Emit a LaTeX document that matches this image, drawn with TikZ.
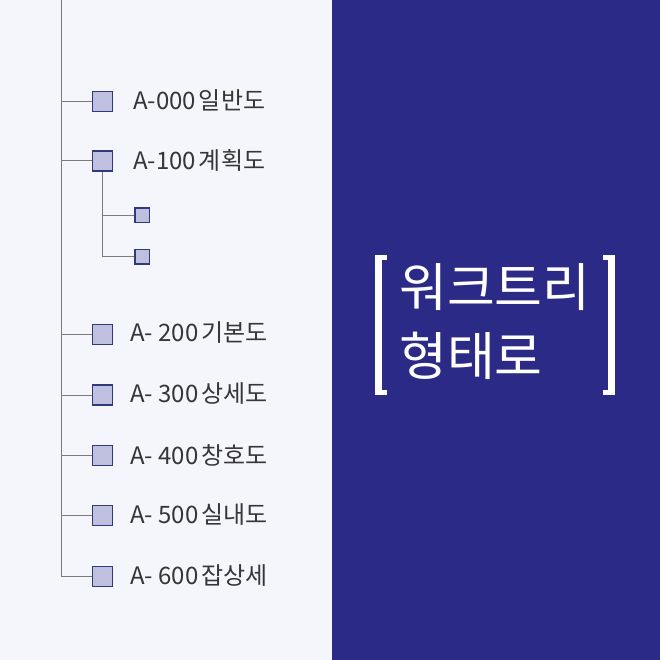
\documentclass[tikz,border=0pt]{standalone}
\usepackage{fontspec}
\setmainfont{Noto Sans CJK KR}
\definecolor{bgl}{HTML}{F5F5FC}
\definecolor{navy}{HTML}{2B2A86}
\definecolor{sqfill}{HTML}{BFC0E0}
\definecolor{sqline}{HTML}{2E3A7C}
\definecolor{txt}{HTML}{363636}
\definecolor{ln}{HTML}{7A7A7A}
\begin{document}
\begin{tikzpicture}[x=1pt,y=-1pt,
  bigsq/.style={draw=sqline,fill=sqfill,line width=1.8pt,minimum size=20pt,inner sep=0pt},
  smallsq/.style={draw=sqline,fill=sqfill,line width=1.5pt,minimum size=14.5pt,inner sep=0pt},
  item/.style={anchor=west,text=txt,font=\fontsize{24}{26}\selectfont,inner sep=0pt},
  conn/.style={draw=ln,line width=1pt},
  title/.style={text=white,font=\fontsize{52}{69}\selectfont,align=left,inner sep=0pt,anchor=north west}]
\useasboundingbox (0,0) rectangle (660,660);
\fill[bgl] (0,0) rectangle (332,660);
\fill[navy] (332,0) rectangle (660,660);
% tree
\coordinate (top) at (61.5,0);
\node[bigsq] (s0) at (102.5,101.5) {};
\node[bigsq] (s1) at (102.5,161) {};
\node[smallsq] (c1) at (142,215) {};
\node[smallsq] (c2) at (142,256.5) {};
\node[bigsq] (s2) at (102.5,334.5) {};
\node[bigsq] (s3) at (102.5,395) {};
\node[bigsq] (s4) at (102.5,455.5) {};
\node[bigsq] (s5) at (102.5,515.5) {};
\node[bigsq] (s6) at (102.5,576.5) {};
\draw[conn] (top) |- (s6.west);
\foreach \s in {s0,s1,s2,s3,s4,s5}{\draw[conn] (top |- \s.west) -- (\s.west);}
\draw[conn] (s1.south) |- (c2.west);
\draw[conn] (s1.south |- c1.west) -- (c1.west);
\node[item] (t0) at (133,100) {A-000\hspace{-2.5pt} 일반도};
\node[item] (t1) at (133,160) {A-100\hspace{-2.5pt} 계획도};
\node[item] (t2) at (130,333) {A- 200\hspace{-2.5pt} 기본도};
\node[item] (t3) at (130,394) {A- 300\hspace{-2.5pt} 상세도};
\node[item] (t4) at (130,455) {A- 400\hspace{-2.5pt} 창호도};
\node[item] (t5) at (130,515) {A- 500\hspace{-2.5pt} 실내도};
\node[item] (t6) at (130,576) {A- 600\hspace{-2.5pt} 잡상세};
% title with brackets
\fill[white] (375,255) rectangle (382,395);
\fill[white] (375,255) rectangle (387,260);
\fill[white] (375,390) rectangle (387,395);
\fill[white] (608,255) rectangle (615,395);
\fill[white] (603,255) rectangle (615,260);
\fill[white] (603,390) rectangle (615,395);
\node[title] (ttl) at (399,263) {워크트리\\형태로};
\end{tikzpicture}
\end{document}
